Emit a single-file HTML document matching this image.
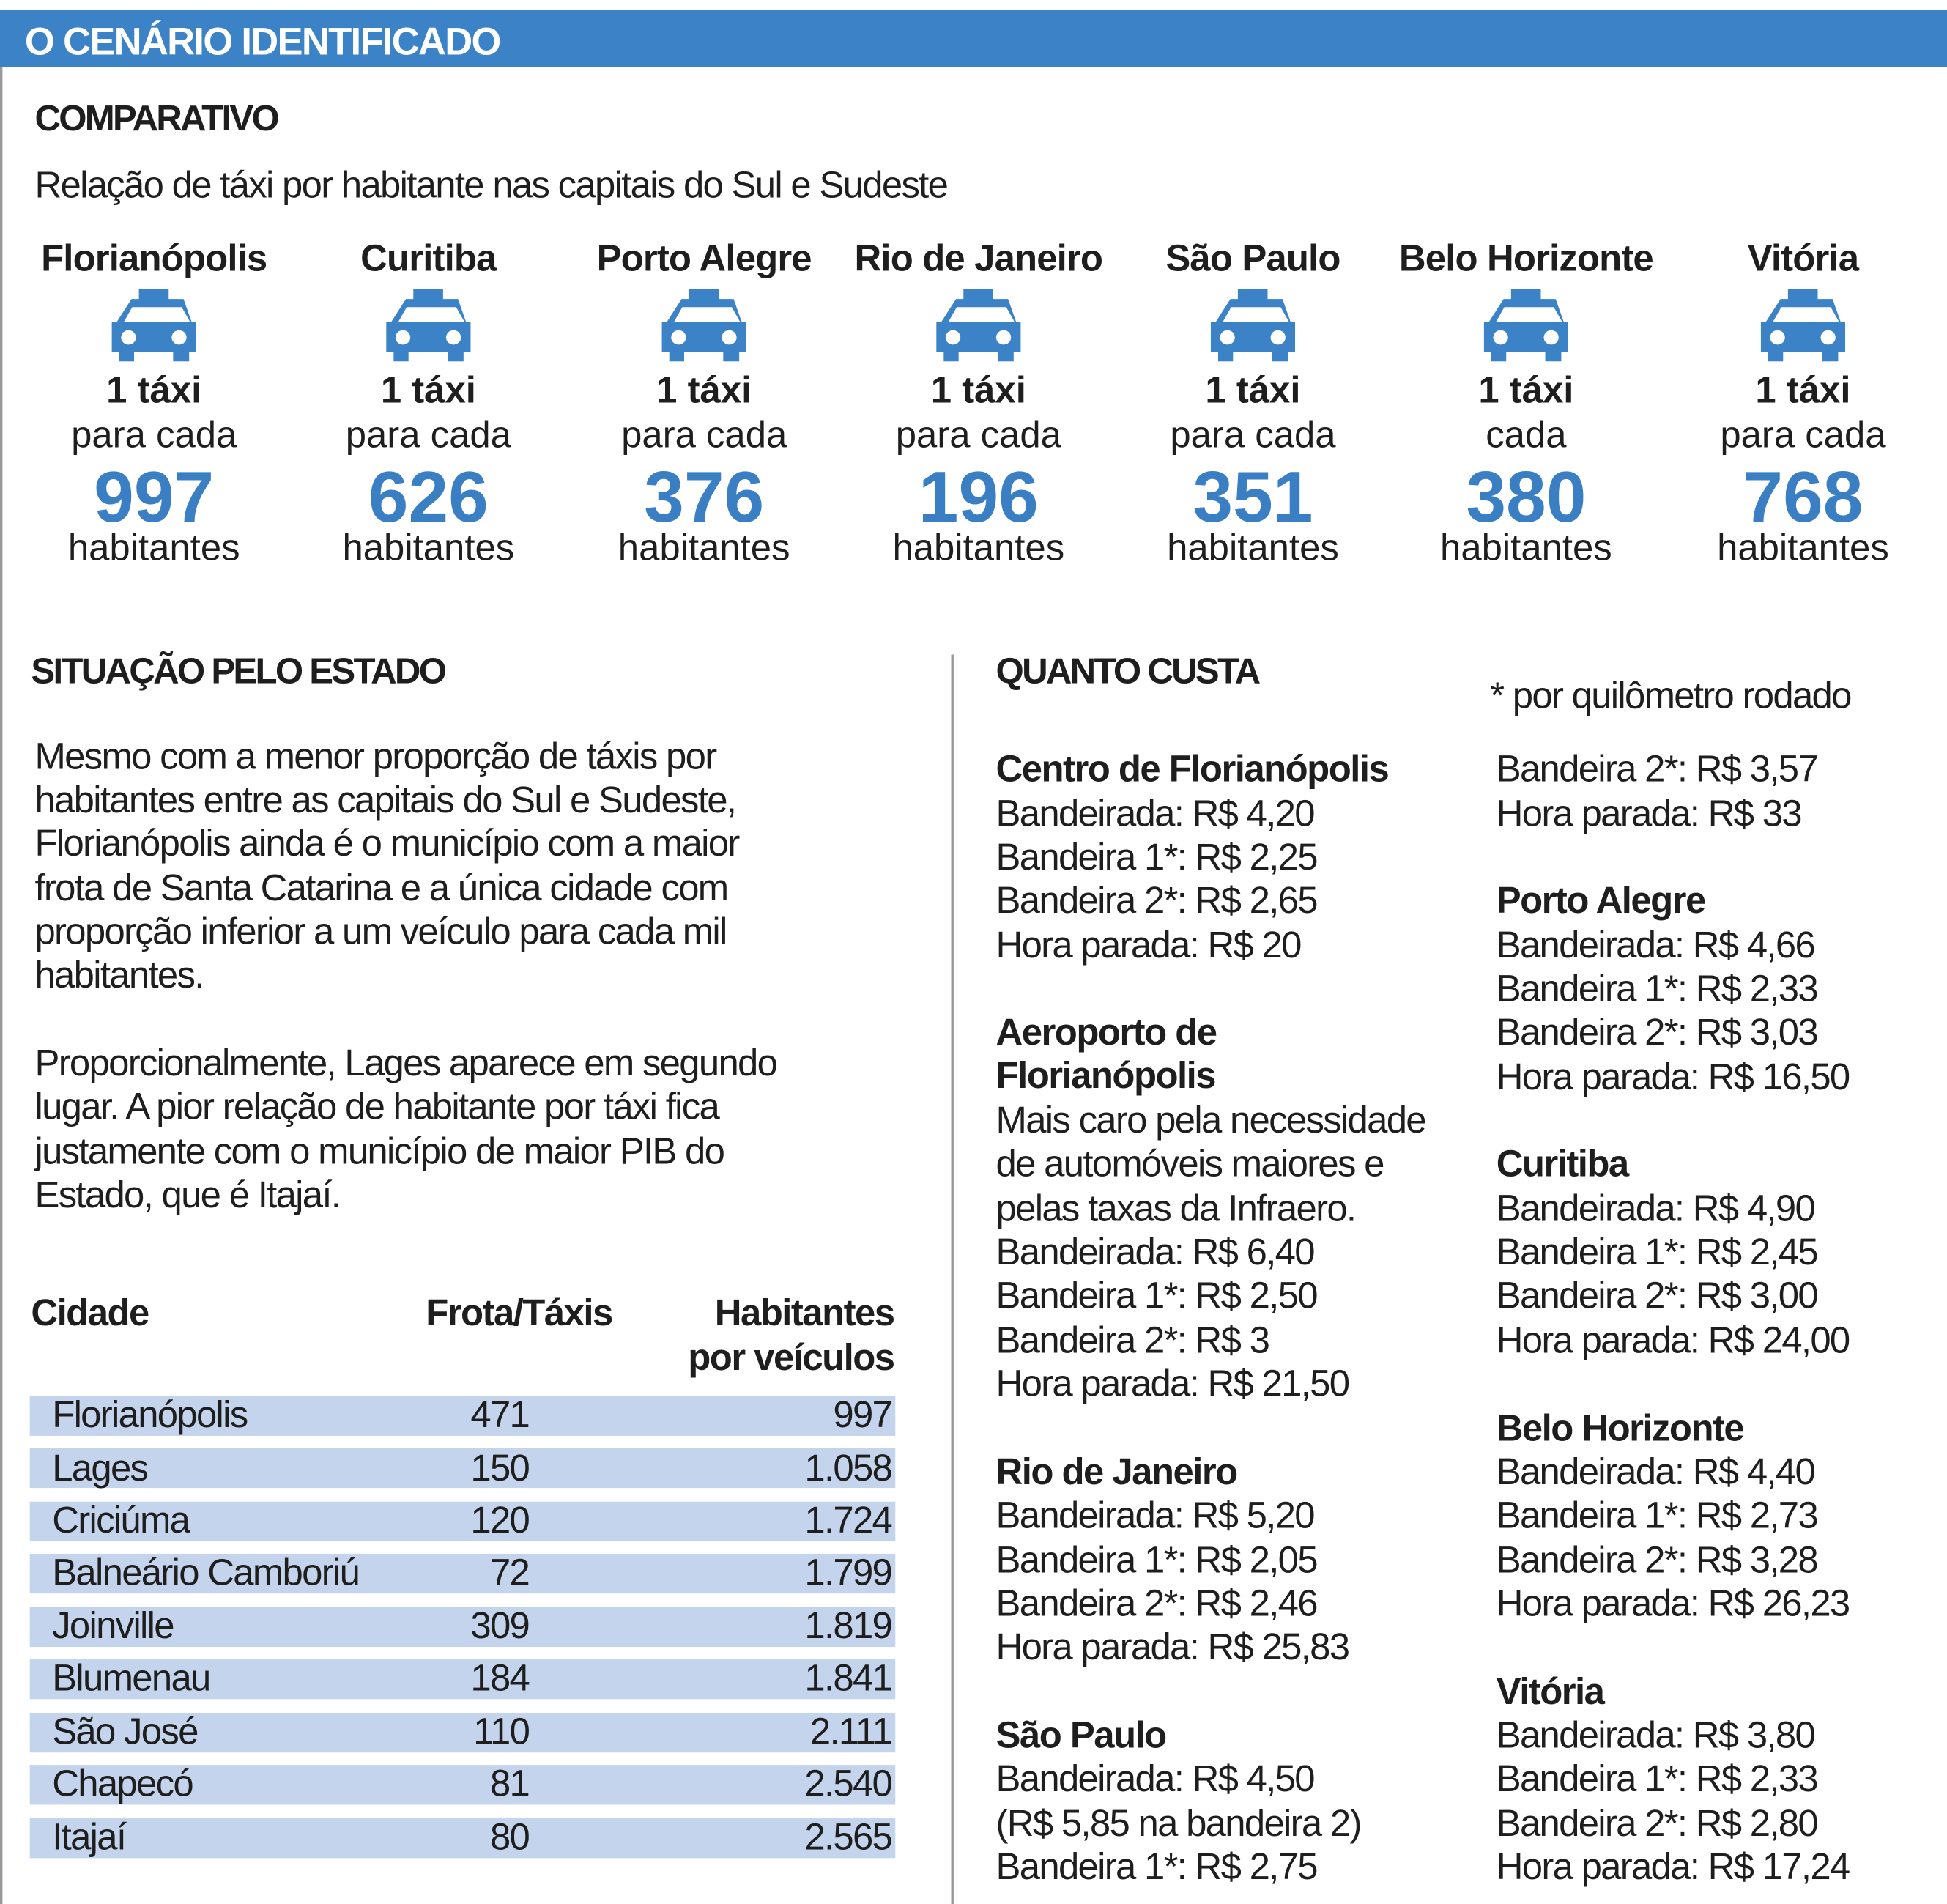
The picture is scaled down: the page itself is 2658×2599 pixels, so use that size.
<!DOCTYPE html>
<html><head><meta charset="utf-8"><style>
html,body{margin:0;padding:0;background:#fff;}
#wrap{width:2658px;height:2599px;overflow:hidden;position:relative;}
#c{position:absolute;left:0;top:0;width:1568px;height:1533px;transform:scale(1.6952,1.6954);transform-origin:0 0;font-family:"Liberation Sans Narrow","Liberation Sans",sans-serif;color:#1e1e1e;}
.t{position:absolute;white-space:nowrap;font-size:30px;line-height:36px;letter-spacing:-1px;}
.b{font-weight:bold;letter-spacing:-0.9px;}
.h{font-weight:bold;font-size:29px;letter-spacing:-1.6px;}
.cc{position:absolute;width:220px;text-align:center;}
.cc div{position:absolute;left:0;width:220px;text-align:center;white-space:nowrap;}
.nm{font-weight:bold;font-size:30px;top:192px;letter-spacing:-0.5px;}
.one{font-weight:bold;font-size:30px;top:298px;}
.pc{font-size:30px;top:334px;}
.num{font-weight:bold;font-size:58px;color:#3a7fc4;top:366px;line-height:70px;}
.hb{font-size:30px;top:425px;}
.car{position:absolute;left:76px;top:233px;}
.band{position:absolute;left:24px;width:697px;height:32px;background:#c4d4ec;}
.r{text-align:right;}
</style></head><body><div id="wrap"><div id="c">
<div style="position:absolute;left:0;top:8px;width:1568px;height:46px;background:#3b82c6;"></div>
<div style="position:absolute;left:0;top:54px;width:2px;height:1479px;background:#9a9a9a;"></div>
<div class="t b" style="left:20px;top:16px;color:#fff;font-size:31px;letter-spacing:-1px;">O CENÁRIO IDENTIFICADO</div>
<div class="t h" style="left:28px;top:78px;">COMPARATIVO</div>
<div class="t" style="left:28px;top:132px;">Relação de táxi por habitante nas capitais do Sul e Sudeste</div>

<div class="cc" style="left:14px;top:0"><div class="nm">Florianópolis</div><div class="one">1 táxi</div><div class="pc">para cada</div><div class="num">997</div><div class="hb">habitantes</div></div>
<div class="cc" style="left:235px;top:0"><div class="nm">Curitiba</div><div class="one">1 táxi</div><div class="pc">para cada</div><div class="num">626</div><div class="hb">habitantes</div></div>
<div class="cc" style="left:457px;top:0"><div class="nm">Porto Alegre</div><div class="one">1 táxi</div><div class="pc">para cada</div><div class="num">376</div><div class="hb">habitantes</div></div>
<div class="cc" style="left:678px;top:0"><div class="nm">Rio de Janeiro</div><div class="one">1 táxi</div><div class="pc">para cada</div><div class="num">196</div><div class="hb">habitantes</div></div>
<div class="cc" style="left:899px;top:0"><div class="nm">São Paulo</div><div class="one">1 táxi</div><div class="pc">para cada</div><div class="num">351</div><div class="hb">habitantes</div></div>
<div class="cc" style="left:1119px;top:0"><div class="nm">Belo Horizonte</div><div class="one">1 táxi</div><div class="pc">cada</div><div class="num">380</div><div class="hb">habitantes</div></div>
<div class="cc" style="left:1342px;top:0"><div class="nm">Vitória</div><div class="one">1 táxi</div><div class="pc">para cada</div><div class="num">768</div><div class="hb">habitantes</div></div>

<svg width="0" height="0" style="position:absolute"><defs><g id="car"><path d="M373 1188H453V1228H493L515 1325H527V1450H508V1488H465V1450H360V1488H320V1450H300V1325H313L353 1228H373Z" fill="#3b82c6"/><path d="M355 1262H488L510 1322H333Z" fill="#fff"/><ellipse cx="345" cy="1388" rx="20" ry="30" fill="#fff"/><ellipse cx="481" cy="1388" rx="20" ry="30" fill="#fff"/></g></defs></svg>
<svg class="car" style="left:90px" width="68" height="58" viewBox="300 1188 227 300" preserveAspectRatio="none"><use href="#car"/></svg>
<svg class="car" style="left:311px" width="68" height="58" viewBox="300 1188 227 300" preserveAspectRatio="none"><use href="#car"/></svg>
<svg class="car" style="left:533px" width="68" height="58" viewBox="300 1188 227 300" preserveAspectRatio="none"><use href="#car"/></svg>
<svg class="car" style="left:754px" width="68" height="58" viewBox="300 1188 227 300" preserveAspectRatio="none"><use href="#car"/></svg>
<svg class="car" style="left:975px" width="68" height="58" viewBox="300 1188 227 300" preserveAspectRatio="none"><use href="#car"/></svg>
<svg class="car" style="left:1195px" width="68" height="58" viewBox="300 1188 227 300" preserveAspectRatio="none"><use href="#car"/></svg>
<svg class="car" style="left:1418px" width="68" height="58" viewBox="300 1188 227 300" preserveAspectRatio="none"><use href="#car"/></svg>

<div style="position:absolute;left:766px;top:527px;width:2px;height:1006px;background:#9a9a9a;"></div>

<div class="t h" style="left:25px;top:523px;">SITUAÇÃO PELO ESTADO</div>
<div class="t" style="left:28px;top:592px;">Mesmo com a menor proporção de táxis por</div>
<div class="t" style="left:28px;top:627px;">habitantes entre as capitais do Sul e Sudeste,</div>
<div class="t" style="left:28px;top:662px;">Florianópolis ainda é o município com a maior</div>
<div class="t" style="left:28px;top:698px;">frota de Santa Catarina e a única cidade com</div>
<div class="t" style="left:28px;top:733px;">proporção inferior a um veículo para cada mil</div>
<div class="t" style="left:28px;top:768px;">habitantes.</div>
<div class="t" style="left:28px;top:839px;">Proporcionalmente, Lages aparece em segundo</div>
<div class="t" style="left:28px;top:874px;">lugar. A pior relação de habitante por táxi fica</div>
<div class="t" style="left:28px;top:910px;">justamente com o município de maior PIB do</div>
<div class="t" style="left:28px;top:945px;">Estado, que é Itajaí.</div>

<div class="t b" style="left:25px;top:1040px;">Cidade</div>
<div class="t b r" style="left:293px;width:200px;top:1040px;">Frota/Táxis</div>
<div class="t b r" style="left:500px;width:220px;top:1040px;">Habitantes</div>
<div class="t b r" style="left:500px;width:220px;top:1076px;">por veículos</div>

<div class="band" style="top:1124px"></div><div class="t" style="left:42px;top:1122px">Florianópolis</div><div class="t r" style="left:300px;width:126px;top:1122px">471</div><div class="t r" style="left:500px;width:218px;top:1122px">997</div>
<div class="band" style="top:1166px"></div><div class="t" style="left:42px;top:1165px">Lages</div><div class="t r" style="left:300px;width:126px;top:1165px">150</div><div class="t r" style="left:500px;width:218px;top:1165px">1.058</div>
<div class="band" style="top:1209px"></div><div class="t" style="left:42px;top:1207px">Criciúma</div><div class="t r" style="left:300px;width:126px;top:1207px">120</div><div class="t r" style="left:500px;width:218px;top:1207px">1.724</div>
<div class="band" style="top:1251px"></div><div class="t" style="left:42px;top:1249px">Balneário Camboriú</div><div class="t r" style="left:300px;width:126px;top:1249px">72</div><div class="t r" style="left:500px;width:218px;top:1249px">1.799</div>
<div class="band" style="top:1294px"></div><div class="t" style="left:42px;top:1292px">Joinville</div><div class="t r" style="left:300px;width:126px;top:1292px">309</div><div class="t r" style="left:500px;width:218px;top:1292px">1.819</div>
<div class="band" style="top:1336px"></div><div class="t" style="left:42px;top:1334px">Blumenau</div><div class="t r" style="left:300px;width:126px;top:1334px">184</div><div class="t r" style="left:500px;width:218px;top:1334px">1.841</div>
<div class="band" style="top:1379px"></div><div class="t" style="left:42px;top:1377px">São José</div><div class="t r" style="left:300px;width:126px;top:1377px">110</div><div class="t r" style="left:500px;width:218px;top:1377px">2.111</div>
<div class="band" style="top:1421px"></div><div class="t" style="left:42px;top:1419px">Chapecó</div><div class="t r" style="left:300px;width:126px;top:1419px">81</div><div class="t r" style="left:500px;width:218px;top:1419px">2.540</div>
<div class="band" style="top:1464px"></div><div class="t" style="left:42px;top:1462px">Itajaí</div><div class="t r" style="left:300px;width:126px;top:1462px">80</div><div class="t r" style="left:500px;width:218px;top:1462px">2.565</div>

<div class="t h" style="left:802px;top:523px;">QUANTO CUSTA</div>
<div class="t b" style="left:802px;top:602px">Centro de Florianópolis</div>
<div class="t" style="left:802px;top:638px">Bandeirada: R$ 4,20</div>
<div class="t" style="left:802px;top:673px">Bandeira 1*: R$ 2,25</div>
<div class="t" style="left:802px;top:708px">Bandeira 2*: R$ 2,65</div>
<div class="t" style="left:802px;top:744px">Hora parada: R$ 20</div>
<div class="t b" style="left:802px;top:814px">Aeroporto de</div>
<div class="t b" style="left:802px;top:849px">Florianópolis</div>
<div class="t" style="left:802px;top:885px">Mais caro pela necessidade</div>
<div class="t" style="left:802px;top:920px">de automóveis maiores e</div>
<div class="t" style="left:802px;top:956px">pelas taxas da Infraero.</div>
<div class="t" style="left:802px;top:991px">Bandeirada: R$ 6,40</div>
<div class="t" style="left:802px;top:1026px">Bandeira 1*: R$ 2,50</div>
<div class="t" style="left:802px;top:1062px">Bandeira 2*: R$ 3</div>
<div class="t" style="left:802px;top:1097px">Hora parada: R$ 21,50</div>
<div class="t b" style="left:802px;top:1168px">Rio de Janeiro</div>
<div class="t" style="left:802px;top:1203px">Bandeirada: R$ 5,20</div>
<div class="t" style="left:802px;top:1239px">Bandeira 1*: R$ 2,05</div>
<div class="t" style="left:802px;top:1274px">Bandeira 2*: R$ 2,46</div>
<div class="t" style="left:802px;top:1309px">Hora parada: R$ 25,83</div>
<div class="t b" style="left:802px;top:1380px">São Paulo</div>
<div class="t" style="left:802px;top:1415px">Bandeirada: R$ 4,50</div>
<div class="t" style="left:802px;top:1451px">(R$ 5,85 na bandeira 2)</div>
<div class="t" style="left:802px;top:1486px">Bandeira 1*: R$ 2,75</div>

<div class="t" style="left:1200px;top:543px">* por quilômetro rodado</div>
<div class="t" style="left:1205px;top:602px">Bandeira 2*: R$ 3,57</div>
<div class="t" style="left:1205px;top:638px">Hora parada: R$ 33</div>
<div class="t b" style="left:1205px;top:708px">Porto Alegre</div>
<div class="t" style="left:1205px;top:744px">Bandeirada: R$ 4,66</div>
<div class="t" style="left:1205px;top:779px">Bandeira 1*: R$ 2,33</div>
<div class="t" style="left:1205px;top:814px">Bandeira 2*: R$ 3,03</div>
<div class="t" style="left:1205px;top:850px">Hora parada: R$ 16,50</div>
<div class="t b" style="left:1205px;top:920px">Curitiba</div>
<div class="t" style="left:1205px;top:956px">Bandeirada: R$ 4,90</div>
<div class="t" style="left:1205px;top:991px">Bandeira 1*: R$ 2,45</div>
<div class="t" style="left:1205px;top:1026px">Bandeira 2*: R$ 3,00</div>
<div class="t" style="left:1205px;top:1062px">Hora parada: R$ 24,00</div>
<div class="t b" style="left:1205px;top:1133px">Belo Horizonte</div>
<div class="t" style="left:1205px;top:1168px">Bandeirada: R$ 4,40</div>
<div class="t" style="left:1205px;top:1203px">Bandeira 1*: R$ 2,73</div>
<div class="t" style="left:1205px;top:1239px">Bandeira 2*: R$ 3,28</div>
<div class="t" style="left:1205px;top:1274px">Hora parada: R$ 26,23</div>
<div class="t b" style="left:1205px;top:1345px">Vitória</div>
<div class="t" style="left:1205px;top:1380px">Bandeirada: R$ 3,80</div>
<div class="t" style="left:1205px;top:1415px">Bandeira 1*: R$ 2,33</div>
<div class="t" style="left:1205px;top:1451px">Bandeira 2*: R$ 2,80</div>
<div class="t" style="left:1205px;top:1486px">Hora parada: R$ 17,24</div>
</div></div></body></html>
